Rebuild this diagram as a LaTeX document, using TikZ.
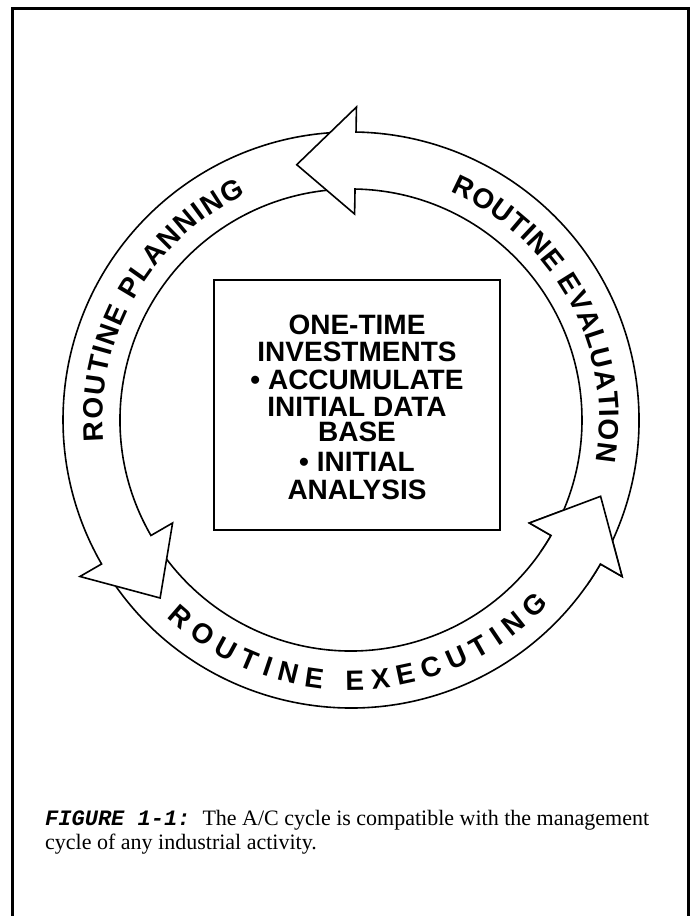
\documentclass[tikz,border=0pt]{standalone}
\usepackage{fontspec}
\setmainfont{Liberation Serif}
\newfontfamily\helv{Liberation Sans}
\newfontfamily\cour{Liberation Mono}
\usetikzlibrary{decorations.text}
\newcommand\ringfont{\helv\bfseries\fontsize{28}{30}\selectfont}
\newcommand\boxfont{\helv\bfseries\fontsize{28}{30}\selectfont}
\newcommand\bandpath[2]{(#1:288) arc[start angle=#1, end angle=#2, radius=288] -- (#2:313) -- ({#2+13}:261) -- (#2:206) -- (#2:231) arc[start angle=#2, end angle=#1, radius=231] -- cycle}
\tikzset{
  bandline/.style={draw=black, line width=1.6pt, line join=miter, miter limit=20},
  bandshape/.style={bandline, fill=white},
  ringtext/.style={decorate, decoration={text along path, text align=fit to path, text={#1}}},
  boxtxt/.style={font=\boxfont, inner sep=0pt, anchor=base},
  captxt/.style={font=\fontsize{22}{24}\selectfont, inner sep=0pt, anchor=base west},
  frameline/.style={draw=black, line width=3pt},
}
\begin{document}
\begin{tikzpicture}[x=1pt, y=1pt]
\useasboundingbox[fill=white] (0,0) rectangle (693,916);
% frame
\draw[frameline] (12,-5) -- (12,907) -- (688,907) -- (688,-5);
% ring
\begin{scope}[shift={(351,496)}]
  \coordinate (O) at (0,0);
  % executing band
  \path[bandshape] \bandpath{211.5}{330};
  % planning band
  \path[bandshape] \bandpath{90.5}{210};
  % evaluation band
  \path[bandshape] \bandpath{-28.5}{89};
  % redraw executing arrowhead on top
  \fill[white] (325:288) arc[start angle=325, end angle=330, radius=288] -- (330:313) -- (343:261) -- (330:206) -- (330:231) arc[start angle=330, end angle=325, radius=231] -- cycle;
  \draw[bandline] (325:288) arc[start angle=325, end angle=330, radius=288] -- (330:313) -- (343:261) -- (330:206) -- (330:231) arc[start angle=330, end angle=325, radius=231];
  % texts
  \path[ringtext={|\ringfont|ROUTINE PLANNING}] (185:248.5) arc[start angle=185, end angle=115, radius=248.5];
  \path[ringtext={|\ringfont|ROUTINE EVALUATION}] (66.5:248.5) arc[start angle=66.5, end angle=-9.5, radius=248.5];
  \path[ringtext={|\ringfont|ROUTINE EXECUTING}] (227:270) arc[start angle=227, end angle=317, radius=270];
\end{scope}
% central box
\node[draw=black, line width=2.4pt, minimum width=286pt, minimum height=250pt, inner sep=0pt] (box) at (357,511) {};
\node[boxtxt] (t1) at (357,581) {ONE-TIME};
\node[boxtxt] (t2) at (357,554) {INVESTMENTS};
\node[boxtxt] (t3) at (357,526) {• ACCUMULATE};
\node[boxtxt] (t4) at (357,499) {INITIAL DATA};
\node[boxtxt] (t5) at (357,474) {BASE};
\node[boxtxt] (t6) at (357,444) {• INITIAL};
\node[boxtxt] (t7) at (357,416) {ANALYSIS};
% caption
\node[captxt] (cap1) at (45,90) {{\cour\bfseries\itshape FIGURE 1-1:}\hspace{0.55em}The A/C cycle is compatible with the management};
\node[captxt] (cap2) at (45,66) {cycle of any industrial activity.};
\end{tikzpicture}
\end{document}
